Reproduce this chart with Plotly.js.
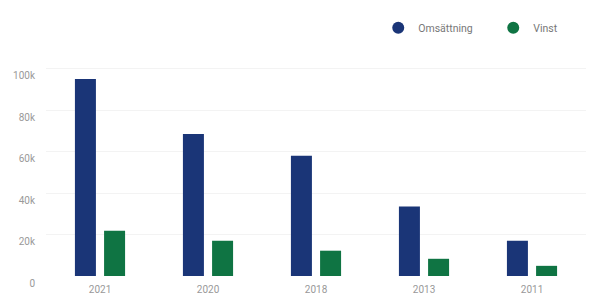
<!DOCTYPE html>
<html><head><meta charset="utf-8">
<script src="https://cdn.plot.ly/plotly-3.0.1.min.js"></script>
<style>html,body{margin:0;padding:0;background:#fff;}#c{width:591px;height:295px;}</style>
</head><body><div id="c"></div>
<script>
const years = ["2021", "2020", "2018", "2013", "2011"];
const omsattning = [95000, 68500, 58000, 33500, 17000];
const vinst = [21800, 17000, 12200, 8300, 4900];
const tickVals = [0, 20000, 40000, 60000, 80000, 100000];
const tickText = ["0", "20k", "40k", "60k", "80k", "100k"];
const seriesNames = ["Omsättning", "Vinst"];
const colors = ["#1a3577", "#0f7443"];

const data = [
  {type: "bar", x: years, y: omsattning, name: seriesNames[0], marker: {color: colors[0]}, showlegend: false, hoverinfo: "skip"},
  {type: "bar", x: years, y: vinst, name: seriesNames[1], marker: {color: colors[1]}, showlegend: false, hoverinfo: "skip"},
  {type: "scatter", mode: "markers", x: [null], y: [null], name: seriesNames[0], marker: {color: colors[0], size: 8, symbol: "circle"}},
  {type: "scatter", mode: "markers", x: [null], y: [null], name: seriesNames[1], marker: {color: colors[1], size: 8, symbol: "circle"}}
];
const layout = {
  width: 591, height: 295,
  margin: {l: 46, r: 5, t: 50, b: 19},
  paper_bgcolor: "#fff", plot_bgcolor: "#fff",
  font: {family: "Roboto, sans-serif", size: 10, color: "#999"},
  barmode: "group", bargap: 0.46, bargroupgap: 0.28,
  showlegend: true,
  legend: {orientation: "h", xref: "container", yref: "container", x: 0.64, xanchor: "left", y: 0.955, yanchor: "top", font: {size: 10.5, color: "#777"}, itemsizing: "constant", itemwidth: 30, entrywidth: 70, entrywidthmode: "pixels"},
  xaxis: {type: "category", showgrid: false, zeroline: false, showline: false, ticks: "", tickfont: {size: 10, color: "#999"}, ticklabelstandoff: 6},
  yaxis: {range: [0, 109000], tickvals: tickVals, ticktext: tickText, showgrid: true, gridcolor: "#f3f3f3", zeroline: false, showline: false, ticks: "", tickfont: {size: 10, color: "#999"}, ticklabelshift: 7, ticklabelstandoff: 10}
};
Plotly.newPlot("c", data, layout, {displayModeBar: false, staticPlot: true});
</script></body></html>
